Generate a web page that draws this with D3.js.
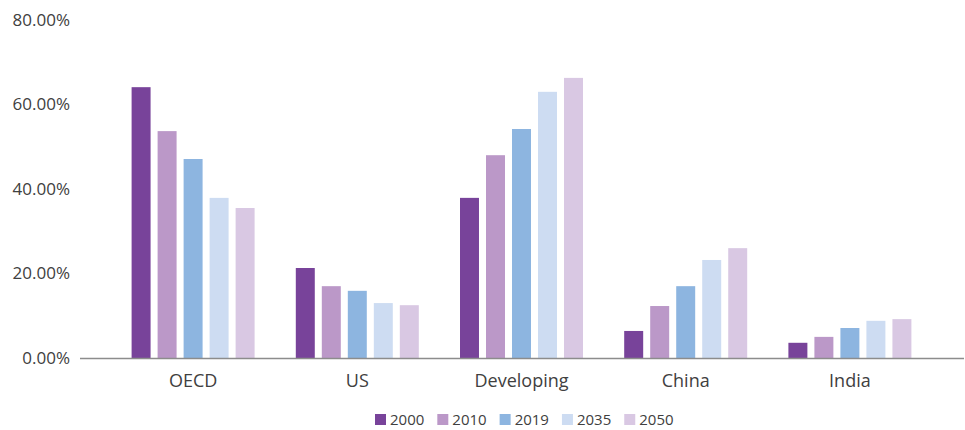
<!DOCTYPE html>
<html lang="en">
<head>
    <meta charset="UTF-8">
    <title>Share by region</title>
    <script src="https://d3js.org/d3.v7.min.js"></script>
    <style>
      body { margin: 0; background: #fff; font-family: "Open Sans", sans-serif; }
      .tick text { fill: #404040; }
      .legend text { fill: #404040; font-size: 15px; }
    </style>
</head>
<body>
    <svg width="965" height="430"></svg>
    <script>
      // data (percent)
      const categories = ['OECD', 'US', 'Developing', 'China', 'India'];
      const years = ['2000', '2010', '2019', '2035', '2050'];
      const v2000 = [64.1, 21.3, 37.9, 6.4, 3.6];
      const v2010 = [53.7, 17.0, 48.0, 12.3, 5.0];
      const v2019 = [47.1, 15.9, 54.2, 17.0, 7.1];
      const v2035 = [37.9, 13.0, 63.0, 23.2, 8.8];
      const v2050 = [35.5, 12.5, 66.3, 26.0, 9.2];
      const yTicks = [0, 20, 40, 60, 80];

      const series = [v2000, v2010, v2019, v2035, v2050];
      const colors = ['#78439a', '#bb98c8', '#8db5e0', '#cddcf2', '#d9c8e3'];

      const svg = d3.select('svg');

      const x = d3.scaleBand().domain(categories).range([111, 932]);
      const xi = d3.scaleBand().domain(years).range([0, 123]).paddingInner(0.27);
      const y = d3.scaleLinear().domain([0, 80]).range([358, 20]);

      // y labels (no axis line)
      svg.append('g')
        .attr('transform', 'translate(70,0)')
        .call(d3.axisLeft(y).tickValues(yTicks).tickSize(0).tickPadding(0).tickFormat(d => d.toFixed(2) + '%'))
        .call(g => g.select('.domain').remove())
        .call(g => g.selectAll('text').attr('font-size', 17).attr('font-family', '"Open Sans", sans-serif'));

      // bars
      const groups = svg.append('g').selectAll('g')
        .data(categories)
        .join('g')
        .attr('transform', d => `translate(${x(d) + (x.bandwidth() - 123) / 2},0)`);

      groups.selectAll('rect')
        .data((c, i) => years.map((yr, j) => ({ year: yr, value: series[j][i] })))
        .join('rect')
        .attr('x', d => xi(d.year))
        .attr('width', xi.bandwidth())
        .attr('y', d => y(d.value))
        .attr('height', d => y(0) - y(d.value))
        .attr('fill', (d, j) => colors[j]);

      // x axis
      svg.append('line')
        .attr('x1', 80).attr('x2', 964)
        .attr('y1', y(0) + 0.5).attr('y2', y(0) + 0.5)
        .attr('stroke', '#8c8c8c').attr('stroke-width', 1.5);

      svg.append('g')
        .attr('transform', `translate(0,${y(0)})`)
        .call(d3.axisBottom(x).tickSize(0).tickPadding(16))
        .call(g => g.select('.domain').remove())
        .call(g => g.selectAll('text').attr('font-size', 18).attr('font-family', '"Open Sans", sans-serif'));

      // legend
      const legend = svg.append('g').attr('class', 'legend');
      let lx = 375;
      years.forEach((yr, j) => {
        legend.append('rect')
          .attr('x', lx).attr('y', 414).attr('width', 11).attr('height', 11)
          .attr('fill', colors[j]);
        const t = legend.append('text')
          .attr('x', lx + 15).attr('y', 425)
          .text(yr);
        lx += 15 + t.node().getComputedTextLength() + 13;
      });
    </script>
</body>
</html>
